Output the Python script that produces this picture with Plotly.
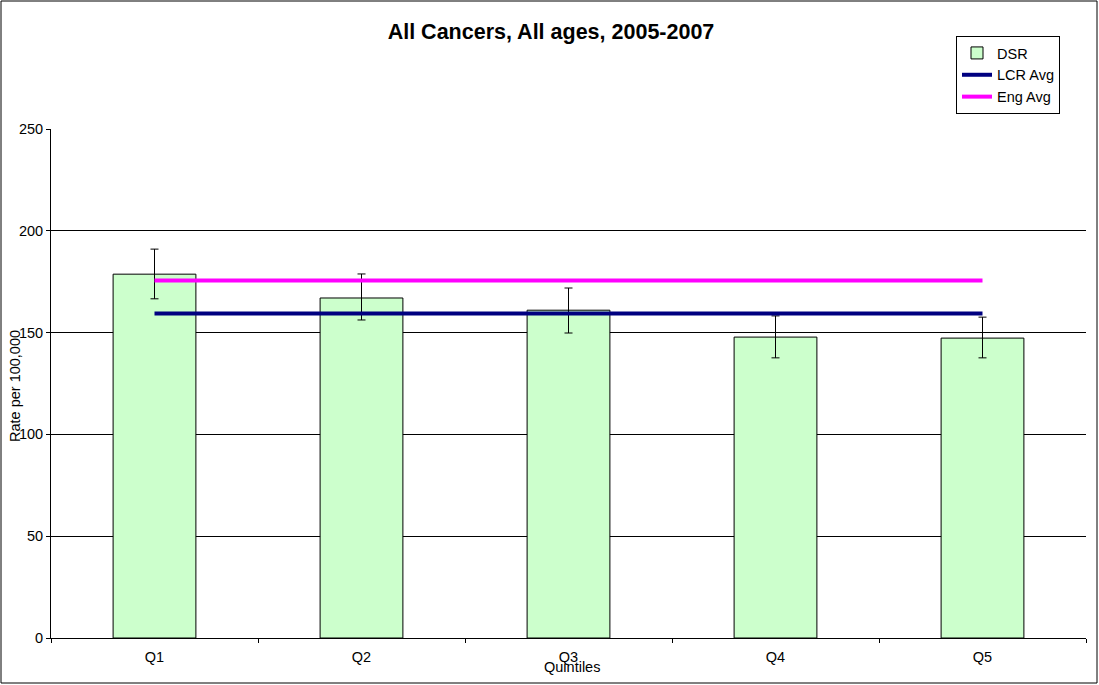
import plotly.graph_objects as go

categories = ["Q1", "Q2", "Q3", "Q4", "Q5"]
dsr = [178.7, 167.0, 161.0, 147.8, 147.3]
err_upper = [191.0, 178.8, 171.9, 158.2, 157.6]
err_lower = [166.6, 156.2, 149.8, 137.6, 137.6]
lcr_avg = [159.4] * 5
eng_avg = [175.6] * 5

err_plus = [u - v for u, v in zip(err_upper, dsr)]
err_minus = [v - l for v, l in zip(dsr, err_lower)]

FONT = "Arial, Liberation Sans, sans-serif"
FS = 14.5

fig = go.Figure()
fig.add_trace(go.Bar(
    x=categories, y=dsr, name="DSR", width=0.4,
    marker=dict(color="#CCFFCC", line=dict(color="black", width=1)),
    error_y=dict(type="data", symmetric=False, array=err_plus, arrayminus=err_minus,
                 color="black", thickness=1, width=4),
))
fig.add_trace(go.Scatter(x=categories, y=lcr_avg, name="LCR Avg", mode="lines",
                         line=dict(color="#000080", width=4)))
fig.add_trace(go.Scatter(x=categories, y=eng_avg, name="Eng Avg", mode="lines",
                         line=dict(color="#FF00FF", width=4)))

L, R, T, B = 51, 13, 129, 47
W, H = 1099, 685
pw, ph = W - L - R, H - T - B

def px_x(x):
    return (x - L) / pw

def px_y(y):
    return (H - B - y) / ph

fig.update_layout(
    width=W, height=H,
    margin=dict(l=L, r=R, t=T, b=B, autoexpand=False),
    paper_bgcolor="white", plot_bgcolor="white",
    font=dict(family=FONT, size=FS, color="black"),
    title=dict(text="<b>All Cancers, All ages, 2005-2007</b>", x=551 / W, xref="container",
               xanchor="center", y=1 - 31 / H, yref="container", yanchor="middle",
               font=dict(family=FONT, size=21.5, color="black")),
    showlegend=True,
    legend=dict(x=px_x(956), y=px_y(36), xanchor="left", yanchor="top",
                bgcolor="white", bordercolor="black", borderwidth=1,
                font=dict(family=FONT, size=FS, color="black"),
                tracegroupgap=0, itemwidth=30),
    xaxis=dict(type="category", showline=True, linecolor="black", linewidth=1,
               ticks="outside", tickson="boundaries", ticklen=4, tickcolor="black",
               ticklabelstandoff=6,
               showgrid=False, tickfont=dict(family=FONT, size=FS, color="black")),
    yaxis=dict(range=[0, 250], tickvals=[0, 50, 100, 150, 200, 250],
               showline=True, linecolor="black", linewidth=1,
               ticks="outside", ticklen=4, tickcolor="black",
               showgrid=True, gridcolor="black", gridwidth=1, zeroline=False,
               tickfont=dict(family=FONT, size=FS, color="black")),
    annotations=[
        dict(text="Quintiles", xref="paper", yref="paper", x=px_x(572), y=px_y(667),
             xanchor="center", yanchor="middle", showarrow=False,
             font=dict(family=FONT, size=FS, color="black")),
        dict(text="Rate per 100,000", xref="paper", yref="paper", x=px_x(15), y=px_y(386),
             xanchor="center", yanchor="middle", showarrow=False, textangle=-90,
             font=dict(family=FONT, size=FS, color="black")),
    ],
    shapes=[
        dict(type="rect", xref="paper", yref="paper",
             x0=px_x(1), x1=px_x(1097), y0=px_y(683), y1=px_y(1),
             line=dict(color="black", width=1), fillcolor="rgba(0,0,0,0)", layer="below"),
    ],
)

fig.write_html("out.html", config={"displayModeBar": False},
               post_script="document.body.style.margin='0';document.body.style.padding='0';")
